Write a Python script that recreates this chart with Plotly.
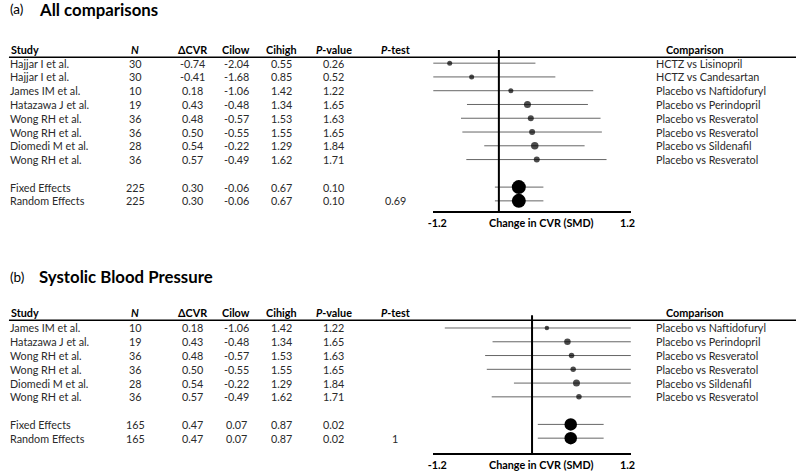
import plotly.graph_objects as go

W, H = 800, 471
FONT = "Lato, Carlito, Calibri, sans-serif"

# ---------------- data: panel (a) All comparisons ----------------
studies_a = ["Hajjar I et al.", "Hajjar I et al.", "James IM et al.", "Hatazawa J et al.",
             "Wong RH et al.", "Wong RH et al.", "Diomedi M et al.", "Wong RH et al."]
n_a = [30, 30, 10, 19, 36, 36, 28, 36]
cvr_a = [-0.74, -0.41, 0.18, 0.43, 0.48, 0.50, 0.54, 0.57]
cilow_a = [-2.04, -1.68, -1.06, -0.48, -0.57, -0.55, -0.22, -0.49]
cihigh_a = [0.55, 0.85, 1.42, 1.34, 1.53, 1.55, 1.29, 1.62]
pval_a = [0.26, 0.52, 1.22, 1.65, 1.63, 1.65, 1.84, 1.71]
comp_a = ["HCTZ vs Lisinopril", "HCTZ vs Candesartan", "Placebo vs Naftidofuryl",
          "Placebo vs Perindopril", "Placebo vs Resveratol", "Placebo vs Resveratol",
          "Placebo vs Sildenafil", "Placebo vs Resveratol"]
pooled_lbl_a = ["Fixed Effects", "Random Effects"]
pooled_n_a = [225, 225]
pooled_cvr_a = [0.30, 0.30]
pooled_low_a = [-0.06, -0.06]
pooled_high_a = [0.67, 0.67]
pooled_p_a = [0.10, 0.10]
pooled_ptest_a = ["", "0.69"]

# ---------------- data: panel (b) Systolic Blood Pressure ----------------
studies_b = ["James IM et al.", "Hatazawa J et al.", "Wong RH et al.", "Wong RH et al.",
             "Diomedi M et al.", "Wong RH et al."]
n_b = [10, 19, 36, 36, 28, 36]
cvr_b = [0.18, 0.43, 0.48, 0.50, 0.54, 0.57]
cilow_b = [-1.06, -0.48, -0.57, -0.55, -0.22, -0.49]
cihigh_b = [1.42, 1.34, 1.53, 1.55, 1.29, 1.62]
pval_b = [1.22, 1.65, 1.63, 1.65, 1.84, 1.71]
comp_b = ["Placebo vs Naftidofuryl", "Placebo vs Perindopril", "Placebo vs Resveratol",
          "Placebo vs Resveratol", "Placebo vs Sildenafil", "Placebo vs Resveratol"]
pooled_lbl_b = ["Fixed Effects", "Random Effects"]
pooled_n_b = [165, 165]
pooled_cvr_b = [0.47, 0.47]
pooled_low_b = [0.07, 0.07]
pooled_high_b = [0.87, 0.87]
pooled_p_b = [0.02, 0.02]
pooled_ptest_b = ["", "1"]

axis_tick_text = ["-1.2", "1.2"]
axis_title = "Change in CVR (SMD)"

# ---------------- styling ----------------
dot_px_a = [5, 5, 5, 7, 6, 6, 7.5, 6]
dot_px_b = [4.5, 6.5, 5.5, 5.5, 7, 5.5]
pooled_px_a = 14
pooled_px_b = 12.5
BODY = 10.8


def px(x):
    return x / W


def py(y):
    return 1 - y / H


fig = go.Figure()
annotations = []
shapes = []

# column centres (pixels)
col_n, col_cvr, col_lo, col_hi, col_p, col_pt = 131, 189, 233, 279, 332, 394
col_comp_left, col_comp_hdr = 656.7, 698
text_color = "#2a2a2a"


def add_panel(k, title_letter, title, title_y, hdr_y, line_y, top_y, axis_y, row0_y, step,
              xrange_, studies, n, cvr, lo, hi, pv, comps,
              plbl, pn, pcvr, plo, phi, pp, ppt, dots, pdot):
    xa = "x" if k == 1 else f"x{k}"
    ya = "y" if k == 1 else f"y{k}"
    nrows = len(studies)
    rows = list(range(nrows))
    prow = [nrows + 1, nrows + 2]
    y_top = -(row0_y - top_y) / step
    y_bot = y_top + (axis_y - top_y) / step

    # CI lines
    for r, a, b in zip(rows + prow, lo + plo, hi + phi):
        fig.add_trace(go.Scatter(x=[a, b], y=[r, r], mode="lines", xaxis=xa, yaxis=ya,
                                 line=dict(color="#666666", width=1), showlegend=False,
                                 hoverinfo="skip"))
    fig.add_trace(go.Scatter(x=cvr, y=rows, mode="markers", xaxis=xa, yaxis=ya,
                             marker=dict(color="black", size=dots, line=dict(width=0)),
                             showlegend=False))
    fig.add_trace(go.Scatter(x=pcvr, y=prow, mode="markers", xaxis=xa, yaxis=ya,
                             marker=dict(color="black", size=pdot, line=dict(width=0)),
                             showlegend=False))

    dom_x = [px(432.7), px(632.7)]
    dom_y = [py(axis_y), py(top_y)]
    x0, x1 = xrange_
    scale = 200 / (x1 - x0)

    def val(xp):
        return x0 + (xp - 432.7) / scale

    xaxis = dict(domain=dom_x, range=list(xrange_), showgrid=False, zeroline=False,
                 showline=True, linecolor="black", linewidth=2,
                 tickmode="array", tickvals=[val(436.7), val(629.3)],
                 ticktext=[f"<b>{t}</b>" for t in axis_tick_text],
                 ticks="outside", ticklen=1, tickcolor="rgba(0,0,0,0)",
                 tickfont=dict(family=FONT, size=BODY, color="black"),
                 anchor=ya, fixedrange=True)
    yaxis = dict(domain=dom_y, range=[y_bot, y_top], visible=False, anchor=xa,
                 fixedrange=True)
    fig.layout["xaxis" if k == 1 else f"xaxis{k}"] = xaxis
    fig.layout["yaxis" if k == 1 else f"yaxis{k}"] = yaxis

    # vertical reference line at zero
    shapes.append(dict(type="line", xref=xa, yref=f"{ya} domain", x0=0, x1=0, y0=0, y1=1,
                       line=dict(color="black", width=2)))
    # header rule
    shapes.append(dict(type="line", xref="paper", yref="paper", x0=px(3), x1=1,
                       y0=py(line_y), y1=py(line_y), line=dict(color="black", width=1.5)))

    # axis title
    annotations.append(dict(text=f"<b>{axis_title}</b>", x=px(542.7), y=py(axis_y + 11),
                            xref="paper", yref="paper", showarrow=False,
                            xanchor="center", yanchor="middle",
                            font=dict(family=FONT, size=BODY, color="black")))

    # panel title
    annotations.append(dict(text=f"({title_letter})", x=px(2), y=py(title_y), xref="paper",
                            yref="paper", showarrow=False, xanchor="left", yanchor="middle",
                            font=dict(family=FONT, size=13.5, color="black")))
    annotations.append(dict(text=f"<b>{title}</b>", x=px(31), y=py(title_y), xref="paper",
                            yref="paper", showarrow=False, xanchor="left", yanchor="middle",
                            font=dict(family=FONT, size=16.8, color="black")))

    # headers
    hdrs = [("Study", 3, "left"), ("<i>N</i>", col_n, "center"), ("ΔCVR", col_cvr, "center"),
            ("Cilow", col_lo, "center"), ("Cihigh", col_hi, "center"),
            ("<i>P</i>-value", col_p, "center"), ("<i>P</i>-test", col_pt, "center"),
            ("Comparison", col_comp_hdr, "center")]
    for t, xx, anc in hdrs:
        annotations.append(dict(text=f"<b>{t}</b>", x=px(xx), y=py(hdr_y), xref="paper",
                                yref="paper", showarrow=False, xanchor=anc, yanchor="middle",
                                font=dict(family=FONT, size=BODY, color="black")))

    def row_text(r, cells):
        for t, xx, anc in cells:
            annotations.append(dict(text=t, x=px(xx), y=r, xref="paper", yref=ya,
                                    showarrow=False, xanchor=anc, yanchor="middle",
                                    font=dict(family=FONT, size=BODY, color=text_color)))

    for i in rows:
        row_text(i, [(studies[i], 2, "left"), (str(n[i]), col_n, "center"),
                     (f"{cvr[i]:.2f}", col_cvr, "center"), (f"{lo[i]:.2f}", col_lo, "center"),
                     (f"{hi[i]:.2f}", col_hi, "center"), (f"{pv[i]:.2f}", col_p, "center"),
                     (comps[i], col_comp_left, "left")])
    for j, r in enumerate(prow):
        cells = [(plbl[j], 2, "left"), (str(pn[j]), col_n, "center"),
                 (f"{pcvr[j]:.2f}", col_cvr, "center"), (f"{plo[j]:.2f}", col_lo, "center"),
                 (f"{phi[j]:.2f}", col_hi, "center"), (f"{pp[j]:.2f}", col_p, "center")]
        if ppt[j]:
            cells.append((ppt[j], col_pt, "center"))
        row_text(r, cells)


add_panel(1, "a", "All comparisons", 9.5, 49.3, 57.3, 50, 211.7, 63.3, 13.8,
          (-0.987, 1.985), studies_a, n_a, cvr_a, cilow_a, cihigh_a, pval_a, comp_a,
          pooled_lbl_a, pooled_n_a, pooled_cvr_a, pooled_low_a, pooled_high_a, pooled_p_a,
          pooled_ptest_a, dot_px_a, pooled_px_a)

add_panel(2, "b", "Systolic Blood Pressure", 277.5, 313.3, 321, 316, 454.3, 328.7, 13.8,
          (-1.2, 1.2), studies_b, n_b, cvr_b, cilow_b, cihigh_b, pval_b, comp_b,
          pooled_lbl_b, pooled_n_b, pooled_cvr_b, pooled_low_b, pooled_high_b, pooled_p_b,
          pooled_ptest_b, dot_px_b, pooled_px_b)

fig.update_layout(width=W, height=H, margin=dict(l=0, r=0, t=0, b=0),
                  paper_bgcolor="white", plot_bgcolor="rgba(0,0,0,0)",
                  annotations=annotations, shapes=shapes, showlegend=False,
                  font=dict(family=FONT))

fig.write_html("out.html", config={"displayModeBar": False},
               post_script="document.body.style.margin='0';document.body.style.overflow='hidden';")
